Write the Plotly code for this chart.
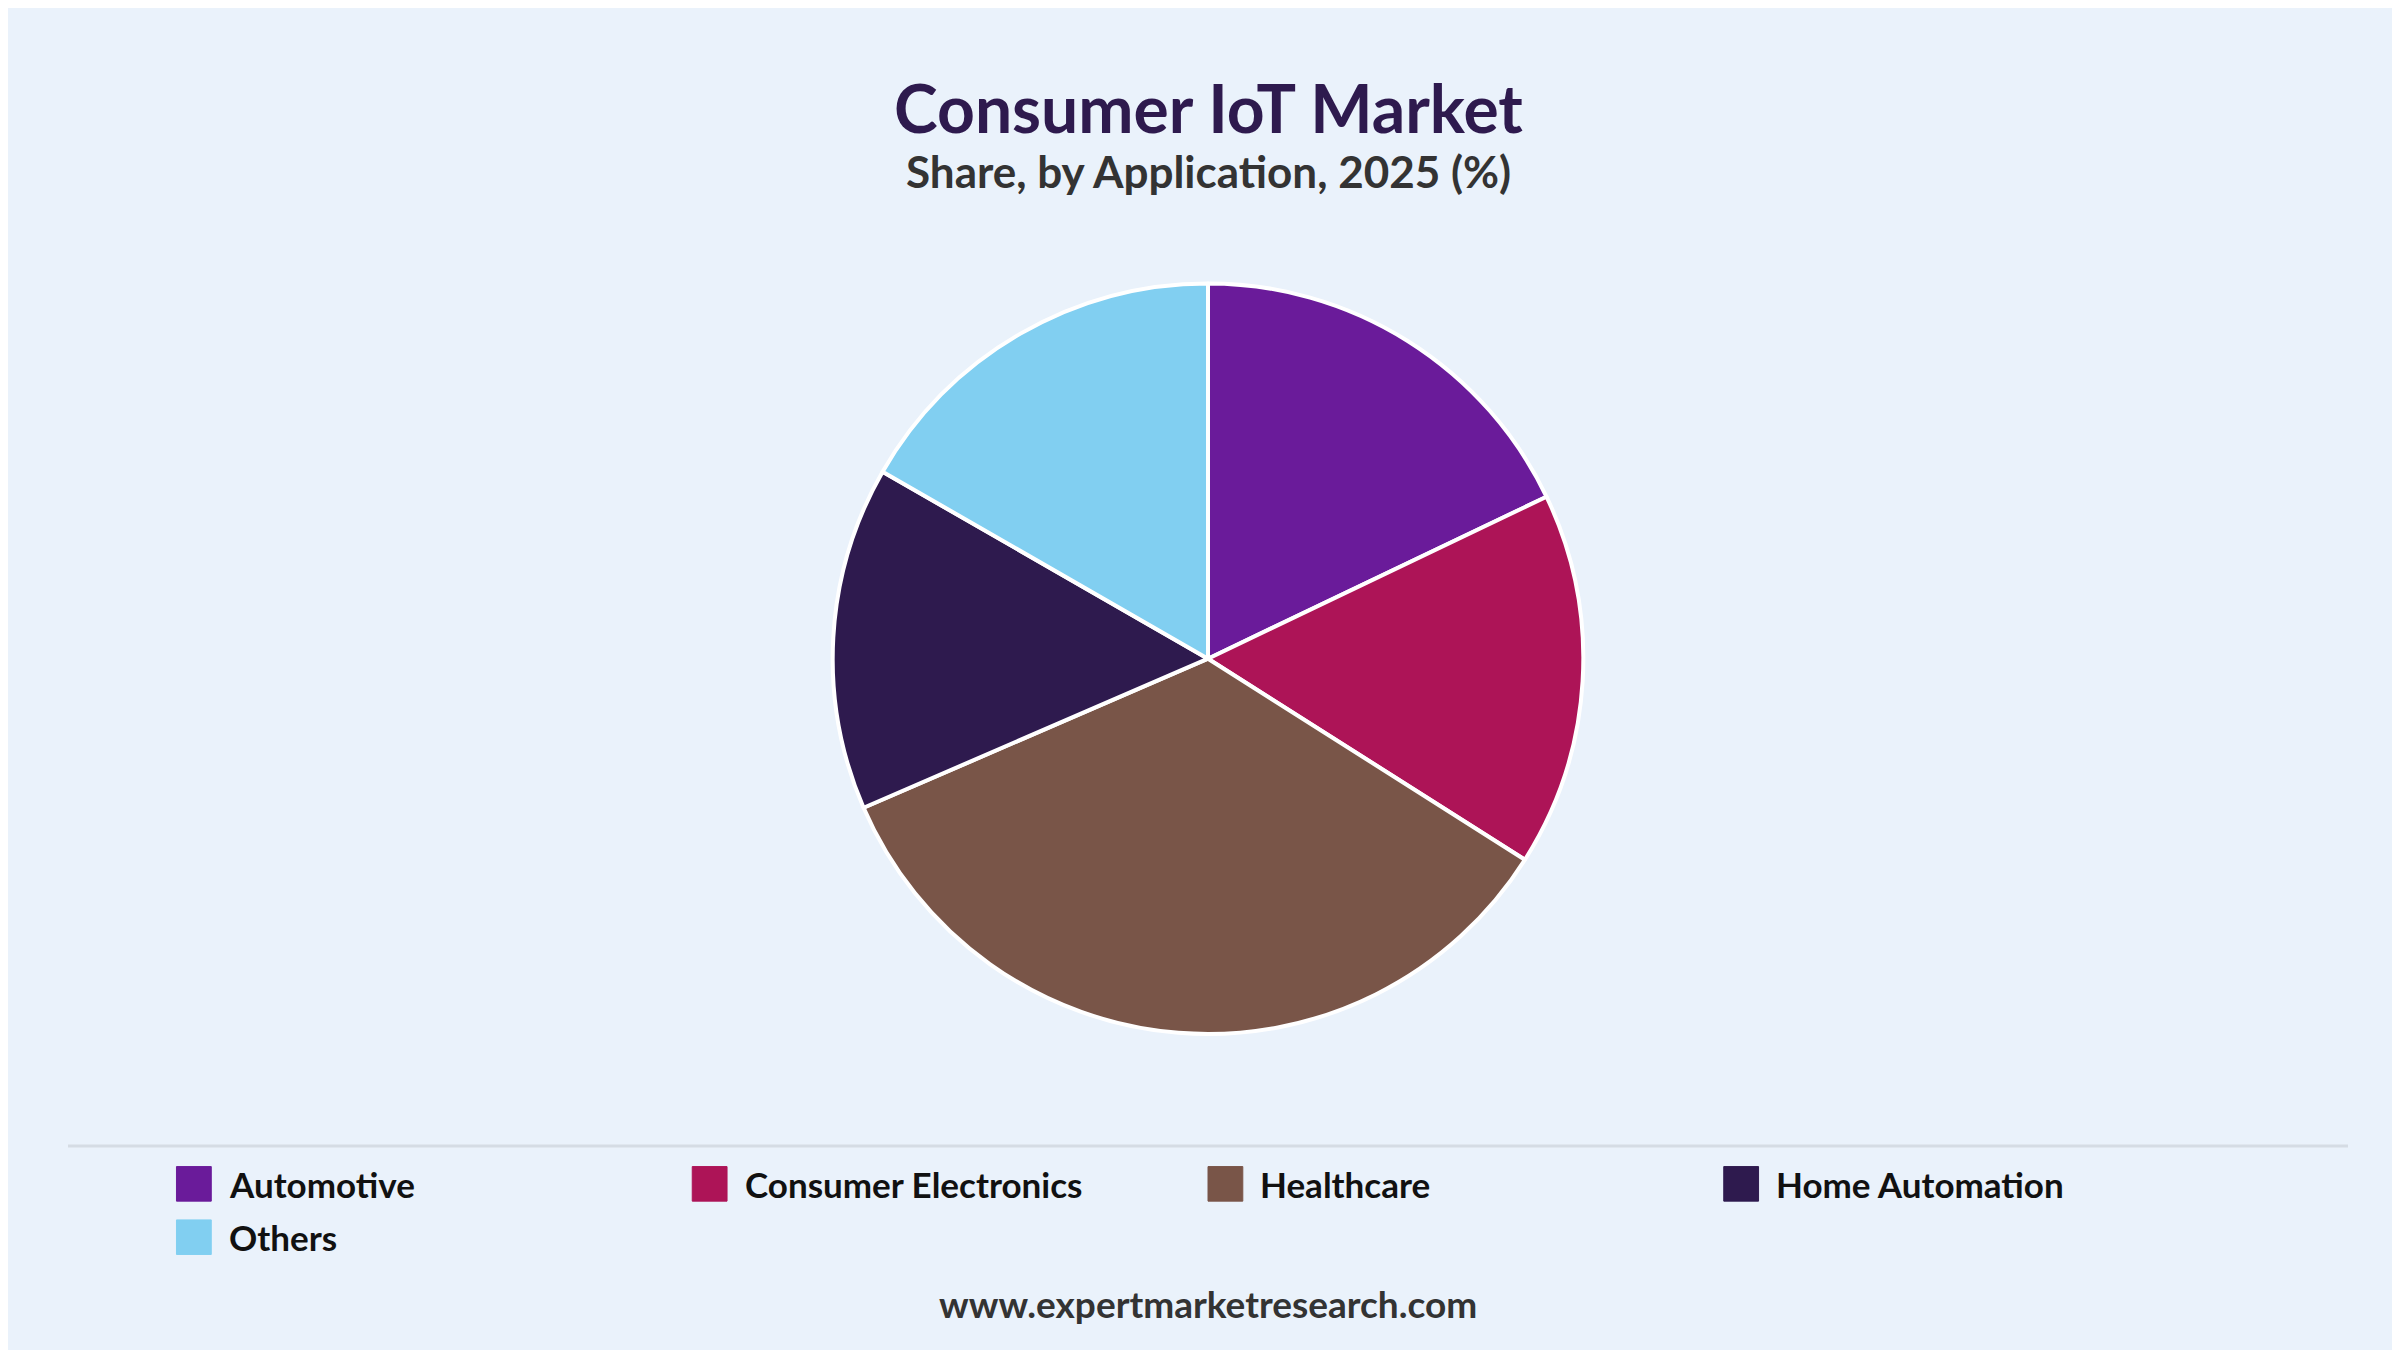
import plotly.graph_objects as go

# Data
labels = ["Automotive", "Consumer Electronics", "Healthcare", "Home Automation", "Others"]
shares = [17.9, 16.1, 34.5, 14.8, 16.7]
colors = ["#6A1B9A", "#AD1457", "#795548", "#2E1A4E", "#81CFF1"]

fig = go.Figure()
fig.add_trace(go.Pie(
    labels=labels, values=shares, sort=False, direction="clockwise", rotation=0,
    marker=dict(colors=colors, line=dict(color="white", width=4)),
    textinfo="none", hoverinfo="label+percent", showlegend=False,
    domain=dict(x=[0.2, 0.8], y=[0.24, 0.796]),
))

# hand-drawn legend: 4 per row
shapes = [dict(type="line", xref="paper", yref="paper", x0=0.025, x1=0.975,
               y0=0.157, y1=0.157, line=dict(color="#D5DCE4", width=3))]
annotations = []
for i, (lab, col) in enumerate(zip(labels, colors)):
    x0 = 0.0702 + (i % 4) * 0.2149
    yc = 0.129 - (i // 4) * 0.0395
    shapes.append(dict(type="rect", xref="paper", yref="paper",
                       x0=x0, x1=x0 + 0.0145, y0=yc - 0.0128, y1=yc + 0.0128,
                       fillcolor=col, line=dict(color=col, width=1)))
    annotations.append(dict(text="<b>" + lab + "</b>", x=x0 + 0.021, y=yc,
                            xref="paper", yref="paper", xanchor="left", yanchor="middle",
                            showarrow=False, font=dict(size=35, color="#111")))

annotations += [
    dict(text="<b>Consumer IoT Market</b>", x=0.5, y=0.926, xref="paper", yref="paper",
         xanchor="center", yanchor="middle", showarrow=False,
         font=dict(size=66, color="#2E1A4E", weight=900)),
    dict(text="<b>Share, by Application, 2025 (%)</b>", x=0.5, y=0.879, xref="paper", yref="paper",
         xanchor="center", yanchor="middle", showarrow=False,
         font=dict(size=44, color="#333")),
    dict(text="<b>www.expertmarketresearch.com</b>", x=0.5, y=0.022,
         xref="paper", yref="paper", xanchor="center", yanchor="bottom",
         showarrow=False, font=dict(size=37, color="#333")),
]

fig.update_layout(
    width=2400, height=1350,
    paper_bgcolor="#EAF2FB", plot_bgcolor="#EAF2FB",
    margin=dict(l=0, r=0, t=0, b=0),
    font=dict(family="Lato, Open Sans, sans-serif", color="#222"),
    showlegend=False,
    shapes=shapes, annotations=annotations,
)

fig.write_html("out.html")
